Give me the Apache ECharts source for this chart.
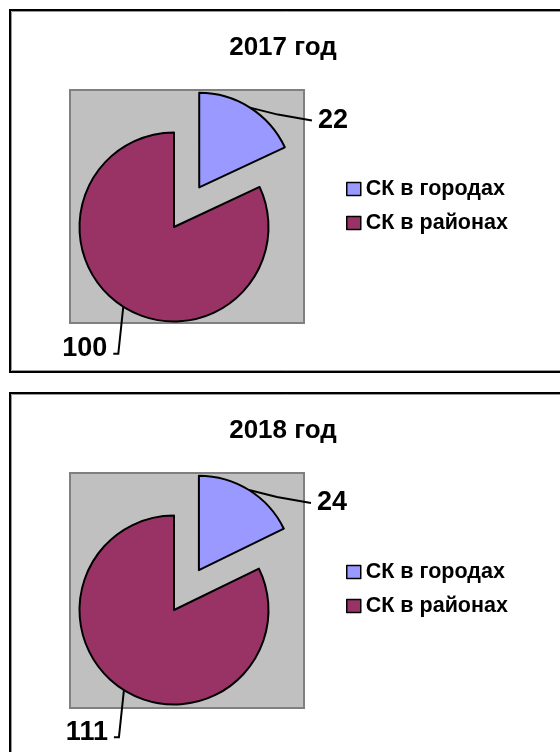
<!DOCTYPE html>
<html>
<head>
<meta charset="utf-8">
<script src="https://cdn.jsdelivr.net/npm/echarts@6/dist/echarts.min.js"></script>
<style>
  html, body { margin: 0; padding: 0; background: #fff; }
  #chart { width: 560px; height: 752px; }
</style>
</head>
<body>
<div id="chart"></div>
<script>
// данные диаграмм
const years = ['2017 год', '2018 год'];
const categories = ['СК в городах', 'СК в районах'];
const cityValues = [22, 24];       // СК в городах
const districtValues = [100, 111]; // СК в районах
const sliceColors = ['#9999FF', '#993366'];

const FONT = '"Liberation Sans", Arial, sans-serif';
const panelShift = 383; // сдвиг второй панели по вертикали

// линии подписей: от края сектора (точку считает echarts)
function placeLabel(params) {
  let pts = params.labelLinePoints;
  if (!pts) return;
  let a = pts[0];
  if (params.dataIndex === 0) {
    // выдвинутый сектор: подпись стоит на своем месте, меняем только линию
    return {labelLinePoints: [a, [a[0] + 28, a[1] + 7], [a[0] + 62, a[1] + 13]]};
  }
  let mid = [a[0] - 5, a[1] + 47];
  let end = [mid[0] - 5, mid[1]];
  return {x: end[0] - 6, y: end[1] - 5, align: 'right', verticalAlign: 'middle', labelLinePoints: [a, mid, end]};
}

let graphics = [], titles = [], legends = [], series = [];
years.forEach((year, i) => {
  let dy = i * panelShift;
  // рамка панели
  graphics.push({type: 'rect', shape: {x: 10, y: 10 + dy, width: 570, height: 362}, style: {fill: 'none', stroke: '#000', lineWidth: 2}});
  graphics.push({type: 'rect', shape: {x: 11.5, y: 11.5 + dy, width: 570, height: 359}, style: {fill: 'none', stroke: '#999', lineWidth: 1}});
  // серая область построения
  graphics.push({type: 'rect', shape: {x: 70, y: 90 + dy, width: 234, height: 233 + i * 2}, style: {fill: '#C0C0C0', stroke: '#808080', lineWidth: 2}});

  titles.push({
    text: year, left: 278, top: 30 + dy, textAlign: 'center',
    textStyle: {fontFamily: FONT, fontSize: 26, fontWeight: 'bold', color: '#000'}
  });
  legends.push({
    data: categories, orient: 'vertical', left: 346, top: 178 + dy, padding: 0,
    icon: 'rect', itemWidth: 14, itemHeight: 13, itemGap: 12,
    itemStyle: {borderColor: '#000', borderWidth: 1.5},
    textStyle: {fontFamily: FONT, fontSize: 21.5, fontWeight: 'bold', color: '#000', lineHeight: 20},
    selectedMode: false
  });
  series.push({
    type: 'pie',
    center: [174, 227 + dy],
    radius: 94.5,
    startAngle: 90,
    clockwise: true,
    selectedMode: 'single',
    selectedOffset: 47,
    avoidLabelOverlap: false,
    animation: false,
    emphasis: {disabled: true},
    itemStyle: {borderColor: '#000', borderWidth: 2},
    label: {
      show: true, position: 'outside', formatter: '{c}',
      fontFamily: FONT, fontSize: 27, fontWeight: 'bold', color: '#000'
    },
    labelLine: {show: true, length: 10, length2: 10, lineStyle: {color: '#000', width: 2}},
    labelLayout: placeLabel,
    data: [
      {
        name: categories[0], value: cityValues[i], selected: true, itemStyle: {color: sliceColors[0]},
        // пустая первая строка опускает число ниже линии
        label: {formatter: '\n{c}', lineHeight: 25},
        labelLine: {length: 0, length2: 63}
      },
      {name: categories[1], value: districtValues[i], itemStyle: {color: sliceColors[1]}}
    ]
  });
});

let chart = echarts.init(document.getElementById('chart'));
chart.setOption({
  animation: false,
  color: sliceColors,
  graphic: graphics,
  title: titles,
  legend: legends,
  series: series
});
</script>
</body>
</html>
